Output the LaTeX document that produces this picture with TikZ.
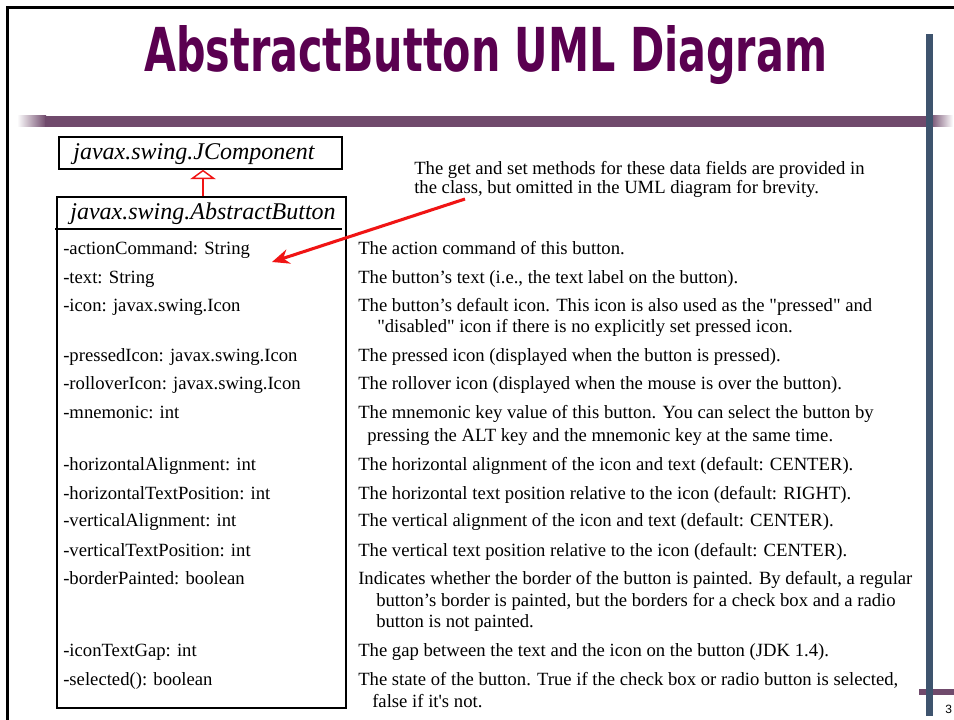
\documentclass[tikz,border=0pt]{standalone}
\usepackage{fontspec}
\setmainfont{Liberation Serif}
\newfontfamily\titlefont{DejaVu Sans Condensed}
\newfontfamily\numfont{Liberation Sans}
\usetikzlibrary{arrows.meta}
\definecolor{titlepurple}{RGB}{90,0,80}
\definecolor{barpurple}{RGB}{112,74,108}
\definecolor{barblue}{RGB}{62,84,110}
\definecolor{arrowred}{RGB}{240,20,20}
\begin{document}
\begin{tikzpicture}[x=0.75pt,y=-0.75pt,
 txt/.style={inner sep=0pt,anchor=base west,font=\fontsize{14}{16}\selectfont},
 hdr/.style={inner sep=0pt,anchor=base,font=\fontsize{18}{21}\selectfont\itshape},
 umlbox/.style={draw=black,line width=1.1pt,inner sep=0pt}]
\useasboundingbox (0,0) rectangle (954,720);
\fill[white] (0,0) rectangle (954,720);
% frame
\draw[line width=1.6pt] (7.5,720) -- (7.5,7.5) -- (954,7.5);
% decorative bars
\fill[left color=white, right color=barpurple] (17,116) rectangle (46,127);
\fill[barpurple] (45,116) rectangle (931,127);
\fill[left color=barpurple, right color=white] (930,116) rectangle (953,127);
\fill[barpurple] (919,689) rectangle (954,695);
\fill[barblue] (926,34) rectangle (933,716);
\node[font=\numfont\fontsize{9}{10}\selectfont, anchor=base west, inner sep=0pt] (pg) at (945,713) {3};
% title
\node[anchor=base west,inner sep=0pt,text=titlepurple] (title) at (144,72)
  {\resizebox{512pt}{34.5pt}{\titlefont\bfseries AbstractButton UML Diagram}};
% class boxes
\node[umlbox, minimum width=212.25pt, minimum height=24pt] (jc) at (200.5,153) {};
\node[hdr] (jct) at (194,160) {javax.swing.JComponent};
\node[umlbox, minimum width=216.75pt, minimum height=383.25pt] (ab) at (201.5,452.5) {};
\node[hdr] (abt) at (203,220) {javax.swing.AbstractButton};
\draw[line width=1.1pt] (55,229) -- (342,229);
% inheritance
\coordinate (inh) at (203,0);
\draw[arrowred, line width=1.1pt, -{Triangle[open, fill=white, width=19pt, length=7pt]}]
  (inh |- ab.north) -- (inh |- jc.south);
% attributes
\node[txt] (a1) at (63,255) {-actionCommand: String};
\node[txt] (a2) at (63,284) {-text: String};
\node[txt] (a3) at (63,312) {-icon: javax.swing.Icon};
\node[txt] (a4) at (63,362) {-pressedIcon: javax.swing.Icon};
\node[txt] (a5) at (63,390) {-rolloverIcon: javax.swing.Icon};
\node[txt] (a6) at (63,419) {-mnemonic: int};
\node[txt] (a7) at (63,470) {-horizontalAlignment: int};
\node[txt] (a8) at (63,499) {-horizontalTextPosition: int};
\node[txt] (a9) at (63,527) {-verticalAlignment: int};
\node[txt] (a10) at (63,556) {-verticalTextPosition: int};
\node[txt] (a11) at (63,584) {-borderPainted: boolean};
\node[txt] (a12) at (63,656) {-iconTextGap: int};
\node[txt] (a13) at (63,685) {-selected(): boolean};
% descriptions
\node[txt] (d1) at (358,255) {The action command of this button.};
\node[txt] (d2) at (358,284) {The button’s text (i.e., the text label on the button).};
\node[txt] (d3) at (358,312) {The button’s default icon. This icon is also used as the \textquotedbl pressed\textquotedbl{} and};
\node[txt] (d3b) at (377,333) {\textquotedbl disabled\textquotedbl{} icon if there is no explicitly set pressed icon.};
\node[txt] (d4) at (358,362) {The pressed icon (displayed when the button is pressed).};
\node[txt] (d5) at (358,390) {The rollover icon (displayed when the mouse is over the button).};
\node[txt] (d6) at (358,419) {The mnemonic key value of this button. You can select the button by};
\node[txt] (d6b) at (367,441) {pressing the ALT key and the mnemonic key at the same time.};
\node[txt] (d7) at (358,470) {The horizontal alignment of the icon and text (default: CENTER).};
\node[txt] (d8) at (358,499) {The horizontal text position relative to the icon (default: RIGHT).};
\node[txt] (d9) at (358,527) {The vertical alignment of the icon and text (default: CENTER).};
\node[txt] (d10) at (358,556) {The vertical text position relative to the icon (default: CENTER).};
\node[txt] (d11) at (358,584) {Indicates whether the border of the button is painted. By default, a regular};
\node[txt] (d11b) at (376,606) {button’s border is painted, but the borders for a check box and a radio};
\node[txt] (d11c) at (376,627) {button is not painted.};
\node[txt] (d12) at (358,656) {The gap between the text and the icon on the button (JDK 1.4).};
\node[txt] (d13) at (358,685) {The state of the button. True if the check box or radio button is selected,};
\node[txt] (d13b) at (372,707) {false if it\textquotesingle s not.};
% note
\node[txt] (n1) at (414,175) {The get and set methods for these data fields are provided in};
\node[txt] (n2) at (414,194) {the class, but omitted in the UML diagram for brevity.};
\coordinate (ns) at (465,199);
\coordinate (nt) at (272,262);
\draw[arrowred, line width=2.3pt, -{Stealth[length=13pt, width=11pt]}] (ns) -- (nt);
\end{tikzpicture}
\end{document}
